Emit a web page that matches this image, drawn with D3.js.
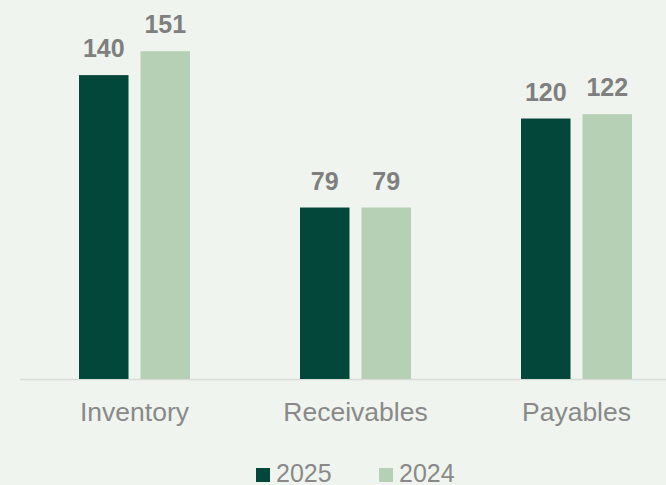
<!DOCTYPE html>
<html lang="en">
<head>
<meta charset="utf-8">
<title>Working capital</title>
<script src="https://d3js.org/d3.v7.min.js"></script>
<style>
  html, body { margin: 0; padding: 0; background: #eff5ee; }
  svg { display: block; font-family: "Liberation Sans", Arial, sans-serif; }
</style>
</head>
<body>
<div id="chart"></div>
<script>
// data
var categories = ["Inventory", "Receivables", "Payables"];
var seriesNames = ["2025", "2024"];
var values2025 = [140, 79, 120];
var values2024 = [151, 79, 122];
var seriesColors = ["#03463a", "#b6d0b5"];

var w = 666, h = 485;
var baseY = 379;

var svg = d3.select("#chart").append("svg")
  .attr("width", w)
  .attr("height", h);

svg.append("rect").attr("width", w).attr("height", h).attr("fill", "#eff5ee");

var x0 = d3.scaleBand().domain(categories).range([24, 687]);
var x1 = d3.scaleBand().domain(seriesNames).range([55, 166]).paddingInner(0.195);
var y = d3.scaleLinear().domain([0, 174.6]).range([baseY, 0]);

var rows = categories.map(function(c, i) {
  return { cat: c, vals: [values2025[i], values2024[i]] };
});

// axis line
svg.append("line")
  .attr("x1", 20).attr("x2", w)
  .attr("y1", baseY + 0.5).attr("y2", baseY + 0.5)
  .attr("stroke", "#d9dcd9")
  .attr("stroke-width", 1.5);

var group = svg.selectAll(".grp")
  .data(rows)
  .enter().append("g")
    .attr("class", "grp")
    .attr("transform", function(d) { return "translate(" + x0(d.cat) + ",0)"; });

var cells = group.selectAll(".cell")
  .data(function(d) { return d.vals.map(function(v, j) { return { s: seriesNames[j], v: v, j: j }; }); })
  .enter().append("g").attr("class", "cell");

cells.append("rect")
  .attr("x", function(d) { return x1(d.s); })
  .attr("y", function(d) { return y(d.v); })
  .attr("width", x1.bandwidth())
  .attr("height", function(d) { return baseY - y(d.v); })
  .attr("fill", function(d) { return seriesColors[d.j]; });

cells.append("text")
  .attr("x", function(d) { return x1(d.s) + x1.bandwidth() / 2; })
  .attr("y", function(d) { return y(d.v) - 18; })
  .attr("text-anchor", "middle")
  .attr("font-size", "25px")
  .attr("font-weight", "bold")
  .attr("fill", "#7f7f7f")
  .text(function(d) { return d.v; });

// category labels
svg.selectAll(".cat")
  .data(categories)
  .enter().append("text")
    .attr("class", "cat")
    .attr("x", function(d) { return x0(d) + x0.bandwidth() / 2; })
    .attr("y", 421)
    .attr("text-anchor", "middle")
    .attr("font-size", "26.5px")
    .attr("fill", "#898989")
    .text(function(d) { return d; });

// legend
var legendX = [256, 379];
var legend = svg.selectAll(".leg")
  .data(seriesNames)
  .enter().append("g")
    .attr("class", "leg")
    .attr("transform", function(d, i) { return "translate(" + legendX[i] + ",467)"; });

legend.append("rect")
  .attr("y", 1)
  .attr("width", 14).attr("height", 14)
  .attr("fill", function(d, i) { return seriesColors[i]; });

legend.append("text")
  .attr("x", 20)
  .attr("y", 15)
  .attr("font-size", "25px")
  .attr("fill", "#898989")
  .text(function(d) { return d; });
</script>
</body>
</html>
